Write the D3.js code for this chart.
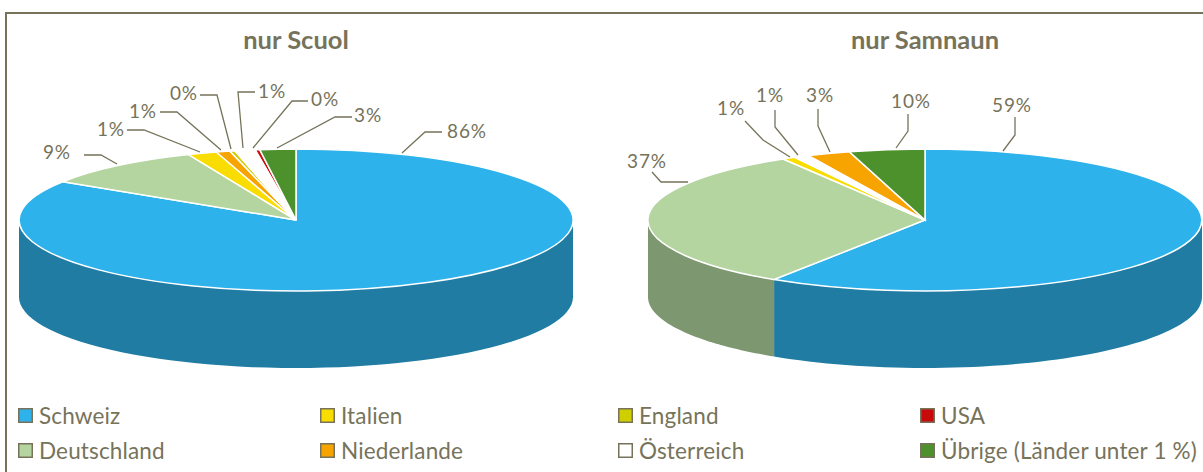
<!DOCTYPE html>
<html>
<head>
<meta charset="utf-8">
<script src="https://cdn.jsdelivr.net/npm/d3@7"></script>
<style>
    body { margin: 0; background: #fff; }
    svg { display: block; }
    text { font-family: "Lato", "Open Sans", sans-serif; fill: #76735a; }
</style>
</head>
<body>
<div id="chart"></div>
<script>
// Data (slice size in percent)
var categories = ["Schweiz", "Deutschland", "Italien", "Niederlande", "England", "Österreich", "USA", "Übrige (Länder unter 1 %)"];
var scuolValues = [84.1, 9.6, 1.7, 0.8, 0.3, 1.2, 0.25, 2.1];
var samnaunValues = [59.2, 32.3, 0.75, 2.5, 0, 0.9, 0, 4.4];
var scuolLabels = ["86%", "9%", "1%", "1%", "0%", "1%", "0%", "3%"];
var samnaunLabels = ["59%", "37%", "1%", "3%", "", "1%", "", "10%"];
var titles = ["nur Scuol", "nur Samnaun"];

// Order of the slices clockwise from 12 o'clock, as category indexes
var scuolOrder = [0, 1, 2, 3, 4, 5, 6, 7];
var samnaunOrder = [0, 1, 2, 5, 3, 4, 6, 7];

// Colors for each category, and darker ones for the visible side wall
var colors = ["#2eb2eb", "#b4d59f", "#f9dc00", "#f7a400", "#cfcf00", "#ffffff", "#c80a0a", "#4c912b"];
var sideColors = ["#207ca3", "#7d9870", "#ad9900", "#ac7200", "#909000", "#ffffff", "#8b0707", "#356520"];

var w = 1203, h = 472;
var rx = 277, ry = 71, depth = 77;
var frameColor = "#76735a";

// Label leader lines per category: [from slice, elbow, end], text anchor point
var scuolLeaders = [
    { pts: [[402, 153], [425, 132], [442, 132]], tx: 447, ty: 138, anchor: "start" },
    { pts: [[117, 164], [101, 155], [84, 155]], tx: 71, ty: 159, anchor: "end" },
    { pts: [[200, 152], [144, 130], [127, 130]], tx: 125, ty: 136, anchor: "end" },
    { pts: [[221, 150], [177, 112], [160, 112]], tx: 157, ty: 118, anchor: "end" },
    { pts: [[231, 149], [217, 95], [200, 95]], tx: 198, ty: 100, anchor: "end" },
    { pts: [[243, 148], [238, 92], [255, 92]], tx: 258, ty: 98, anchor: "start" },
    { pts: [[253, 148], [292, 101], [308, 101]], tx: 311, ty: 106, anchor: "start" },
    { pts: [[277, 148], [335, 117], [352, 117]], tx: 354, ty: 122, anchor: "start" }
];
var samnaunLeaders = [
    { pts: [[1003, 151], [1015, 135], [1015, 117]], tx: 1012, ty: 112, anchor: "middle" },
    { pts: [[688, 182], [661, 182], [652, 172]], tx: 647, ty: 168, anchor: "middle" },
    { pts: [[790, 157], [763, 140], [745, 121]], tx: 731, ty: 115, anchor: "middle" },
    { pts: [[830, 152], [818, 126], [818, 109]], tx: 820, ty: 102, anchor: "middle" },
    null,
    { pts: [[798, 155], [775, 127], [775, 110]], tx: 770, ty: 102, anchor: "middle" },
    null,
    { pts: [[896, 148], [908, 131], [908, 114]], tx: 911, ty: 108, anchor: "middle" }
];

var svg = d3.select("#chart").append("svg").attr("width", w).attr("height", h);

// Frame: only top and left are in the picture
svg.append("path")
    .attr("d", d3.line()([[6, h], [6, 13], [w, 13]]))
    .attr("fill", "none")
    .attr("stroke", frameColor)
    .attr("stroke-width", 2);

var arc = d3.arc().innerRadius(0).outerRadius(1);
var line = d3.line();

// Side wall of one slice, only the part between 3 and 9 o'clock can be seen
function sidePath(d, cx, cy) {
    var a0 = Math.max(d.startAngle, Math.PI / 2);
    var a1 = Math.min(d.endAngle, Math.PI * 1.5);
    if (a1 <= a0) return null;
    var steps = d3.range(0, 61).map(function(i) { return a0 + (a1 - a0) * i / 60; });
    var top = steps.map(function(a) { return [cx + rx * Math.sin(a), cy - ry * Math.cos(a)]; });
    var bottom = top.map(function(p) { return [p[0], p[1] + depth]; }).reverse();
    return line(top.concat(bottom)) + "Z";
}

function drawPie(values, order, labels, leaders, title, cx, cy) {
    // d.data is the category index, so colors stay with their category
    var pie = d3.pie().sort(null).value(function(c) { return values[c]; });
    var slices = pie(order);
    var g = svg.append("g");

    g.append("text")
        .attr("x", cx)
        .attr("y", 49)
        .attr("text-anchor", "middle")
        .attr("font-size", 25.5)
        .attr("font-weight", 700)
        .text(title);

    g.selectAll("path.side")
        .data(slices)
        .enter()
        .append("path")
        .attr("class", "side")
        .attr("d", function(d) { return sidePath(d, cx, cy); })
        .attr("fill", function(d) { return sideColors[d.data]; });

    g.selectAll("path.slice")
        .data(slices)
        .enter()
        .append("path")
        .attr("class", "slice")
        .attr("d", arc)
        .attr("transform", "translate(" + cx + "," + cy + ") scale(" + rx + "," + ry + ")")
        .attr("fill", function(d) { return colors[d.data]; })
        .attr("stroke", "#fff")
        .attr("stroke-width", 1.5)
        .attr("vector-effect", "non-scaling-stroke");

    leaders.forEach(function(l, i) {
        if (!l) return;
        g.append("path")
            .attr("d", line(l.pts))
            .attr("fill", "none")
            .attr("stroke", frameColor)
            .attr("stroke-width", 1.3);
        g.append("text")
            .attr("x", l.tx)
            .attr("y", l.ty)
            .attr("text-anchor", l.anchor)
            .attr("font-size", 19)
            .attr("letter-spacing", 0.9)
            .text(labels[i]);
    });
}

drawPie(scuolValues, scuolOrder, scuolLabels, scuolLeaders, titles[0], 296, 220);
drawPie(samnaunValues, samnaunOrder, samnaunLabels, samnaunLeaders, titles[1], 925, 220);

// Legend, filled column by column
var legendX = d3.scaleOrdinal().domain([0, 1, 2, 3]).range([18, 320, 618, 920]);
var legendY = d3.scaleOrdinal().domain([0, 1]).range([408, 443]);

var legend = svg.selectAll("g.legend")
    .data(categories)
    .enter()
    .append("g")
    .attr("class", "legend")
    .attr("transform", function(d, i) {
        return "translate(" + legendX(Math.floor(i / 2)) + "," + legendY(i % 2) + ")";
    });

legend.append("rect")
    .attr("x", 0.75)
    .attr("y", 0.75)
    .attr("width", 13.5)
    .attr("height", 13.5)
    .attr("fill", function(d, i) { return colors[i]; })
    .attr("stroke", frameColor)
    .attr("stroke-width", 1.5);

legend.append("text")
    .attr("x", 21)
    .attr("y", 16)
    .attr("font-size", 22.5)
    .attr("letter-spacing", 0.15)
    .text(function(d) { return d; });
</script>
</body>
</html>
